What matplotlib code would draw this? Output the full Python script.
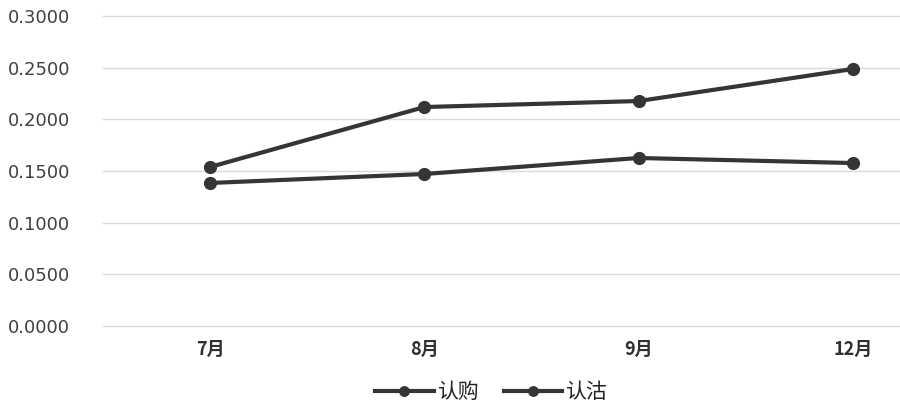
import matplotlib
matplotlib.use("Agg")
import matplotlib.pyplot as plt
import matplotlib.transforms as mtransforms

plt.rcParams['font.family'] = ['Noto Sans CJK SC', 'DejaVu Sans']

categories = ["7月", "8月", "9月", "12月"]
series_names = ["认购", "认沽"]
call_values = [0.1539, 0.2119, 0.2177, 0.2487]
put_values = [0.1384, 0.1471, 0.1626, 0.1577]
y_ticks = [0.0, 0.05, 0.10, 0.15, 0.20, 0.25, 0.30]

fig = plt.figure(figsize=(9, 4.13), dpi=100)
ax = fig.add_axes([103/900, 1-326/413, 1-103/900, (326-16)/413])

x = list(range(len(categories)))
line_color = "#353535"
h1, = ax.plot(x, call_values, color=line_color, lw=3, marker="o", markersize=8.5, label=series_names[0], zorder=3)
h2, = ax.plot(x, put_values, color=line_color, lw=3, marker="o", markersize=8.5, label=series_names[1], zorder=3)

ax.set_ylim(0, 0.3)
ax.set_xlim(-0.5, 3.22)
ax.set_yticks(y_ticks)
ax.set_yticklabels([f"{v:.4f}" for v in y_ticks])
for lab in ax.get_yticklabels():
    lab.set_fontfamily("DejaVu Sans")
    lab.set_fontsize(13)
ax.set_xticks(x)
ax.set_xticklabels(categories, fontsize=13, fontweight="bold")
for v in y_ticks:
    ax.axhline(v, color="#d9d9d9", lw=1, zorder=0, clip_on=False)
for s in ax.spines.values():
    s.set_visible(False)
ax.tick_params(axis="both", length=0, colors="#404040")
ax.tick_params(axis="x", pad=10)
for lab in ax.get_xticklabels():
    lab.set_color("#303030")
fig.canvas.draw()
for lab in ax.get_yticklabels():
    lab.set_horizontalalignment("left")
    lab.set_transform(mtransforms.blended_transform_factory(fig.transFigure, ax.transData))
    lab.set_x(8/900)

fig.legend(handles=[h1, h2], loc="center", bbox_to_anchor=(491/900, 1-392/413), ncol=2,
           frameon=False, handlelength=2.8, columnspacing=1.2, handletextpad=0.15,
           labelcolor="#222222", prop={"size": 15, "family": ["Noto Sans CJK SC", "DejaVu Sans"]},
           markerscale=0.8)

fig.savefig("out.png", dpi=100)
